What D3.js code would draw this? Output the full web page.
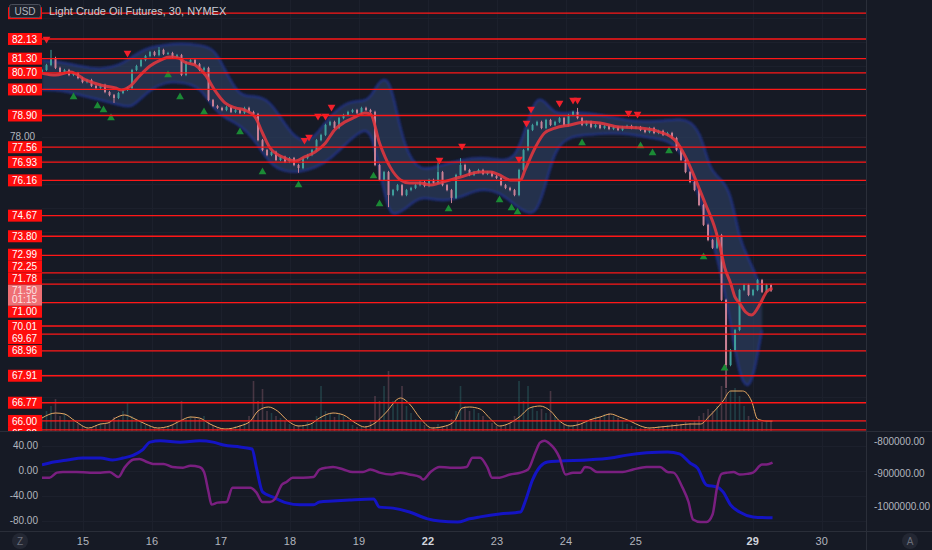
<!DOCTYPE html>
<html>
<head>
<meta charset="utf-8">
<script src="https://cdn.jsdelivr.net/npm/d3@7"></script>
<style>
html, body { margin: 0; padding: 0; background: #161a25; }
svg { display: block; font-family: "Liberation Sans", Arial, sans-serif; }
</style>
</head>
<body>
<div id="chart"></div>
<script>

// ****************************** DATA ******************************
// one close every 3 bars (30 min bars), bar index = 3 * k
var closes = [
    80.82, 81.03, 81.33, 80.91, 80.74, 80.82, 80.61, 80.69, 80.48, 80.31,
    80.40, 80.15, 80.06, 80.19, 79.89, 79.76, 79.64, 79.85, 79.98, 80.06,
    80.82, 80.99, 81.24, 81.41, 81.58, 81.45, 81.67, 81.50, 81.54, 81.37,
    81.45, 80.61, 81.16, 81.24, 81.07, 80.82, 80.91, 79.55, 79.30, 79.22,
    79.13, 79.26, 79.05, 79.13, 79.01, 79.22, 79.05, 78.96, 77.86, 77.44,
    77.23, 77.36, 77.02, 77.15, 76.94, 77.10, 76.81, 76.68, 77.10, 77.23,
    77.44, 77.86, 78.08, 78.50, 78.63, 78.37, 78.79, 78.92, 79.05, 79.13,
    79.01, 79.22, 79.13, 79.05, 76.81, 76.18, 76.51, 75.54, 75.75, 75.96,
    75.54, 75.75, 75.84, 75.96, 76.09, 75.92, 76.18, 76.05, 76.51, 75.96,
    75.75, 75.42, 76.39, 76.81, 76.60, 76.39, 76.51, 76.60, 76.43, 76.51,
    76.34, 76.26, 75.96, 75.84, 75.75, 75.54, 76.60, 77.44, 78.29, 78.50,
    78.63, 78.37, 78.71, 78.50, 78.63, 78.79, 78.50, 78.92, 79.05, 78.79,
    78.50, 78.63, 78.41, 78.50, 78.37, 78.46, 78.33, 78.41, 78.29, 78.41,
    78.46, 78.37, 78.41, 78.29, 78.20, 78.37, 78.16, 78.25, 78.08, 78.16,
    77.95, 77.44, 77.02, 76.51, 76.09, 75.75, 75.12, 74.28, 73.64, 73.31,
    73.85, 71.11, 68.36, 68.99, 69.84, 71.53, 71.74, 71.32, 71.53, 71.95,
    71.45, 71.74, 71.50
];
var first_open = 80.70;

// long wicks [candle k, price]
var wick_highs = [[2, 81.67], [26, 81.79], [88, 76.95], [93, 77.10], [119, 79.22], [150, 73.95]];
var wick_lows = [[16, 79.43], [57, 76.48], [77, 75.03], [91, 75.20], [152, 67.39]];

var volumes = [
    30, 40, 50, 64, 30, 36, 20, 24, 14, 10,
    6, 8, 12, 16, 14, 20, 28, 24, 40, 56,
    30, 22, 18, 12, 10, 8, 6, 8, 10, 12,
    20, 60, 24, 30, 26, 24, 30, 18, 12, 8,
    6, 4, 6, 10, 12, 16, 30, 100, 60, 84,
    40, 36, 30, 26, 20, 14, 10, 12, 10, 18,
    16, 30, 90, 40, 36, 28, 34, 30, 18, 12,
    8, 8, 10, 20, 70, 60, 90, 120, 60, 56,
    90, 50, 36, 24, 20, 12, 6, 8, 14, 10,
    12, 24, 40, 90, 50, 40, 44, 36, 30, 20,
    16, 10, 10, 12, 16, 30, 100, 60, 90, 50,
    40, 44, 36, 80, 30, 20, 14, 10, 12, 20,
    16, 22, 24, 30, 28, 34, 36, 30, 26, 20,
    14, 10, 8, 6, 6, 8, 8, 10, 10, 12,
    14, 16, 14, 18, 16, 20, 30, 36, 44, 40,
    50, 90, 84, 80, 86, 70, 50, 30, 24, 20,
    18, 22, 20
];

// volume average [bar, value]
var vol_avg = [
    [0, 26], [9, 36], [15, 34], [22, 20], [31, 6], [39, 14], [44, 16], [49, 26], [55, 32], [62, 24],
    [69, 14], [77, 6], [85, 10], [92, 20], [99, 28], [105, 26], [112, 14], [122, 4], [132, 10], [139, 20],
    [144, 40], [151, 48], [157, 40], [164, 20], [171, 10], [179, 14], [185, 26], [194, 36], [201, 32], [209, 16],
    [215, 8], [222, 16], [229, 36], [239, 66], [245, 54], [252, 26], [260, 6], [269, 10], [275, 20], [280, 46],
    [285, 48], [292, 44], [299, 24], [305, 10], [312, 16], [319, 30], [325, 46], [332, 50], [339, 40], [345, 20],
    [352, 10], [359, 14], [365, 22], [372, 28], [379, 34], [385, 28], [392, 20], [399, 10], [405, 6], [412, 8],
    [419, 10], [425, 12], [432, 14], [439, 14], [445, 30], [454, 60], [459, 80], [467, 80], [473, 60], [477, 24],
    [483, 20], [487, 20]
];

// red moving average [bar, price]
var ma_line = [
    [0, 80.69], [9, 80.61], [19, 80.74], [29, 80.40], [39, 80.19], [49, 80.06], [53, 79.98], [59, 80.15],
    [65, 80.57], [72, 80.99], [79, 81.24], [85, 81.37], [91, 81.33], [95, 81.16], [102, 81.03], [109, 80.61],
    [115, 79.98], [122, 79.43], [129, 79.22], [135, 79.13], [142, 78.84], [147, 78.16], [152, 77.53], [162, 77.10],
    [169, 76.98], [175, 77.15], [182, 77.36], [189, 77.74], [195, 78.29], [202, 78.63], [209, 78.84], [215, 79.01],
    [219, 78.96], [225, 77.74], [232, 76.73], [239, 76.18], [245, 76.05], [252, 76.05], [259, 75.96], [265, 76.05],
    [279, 76.30], [292, 76.51], [299, 76.51], [305, 76.39], [312, 76.18], [319, 76.18], [322, 76.60], [329, 77.57],
    [335, 78.16], [342, 78.37], [352, 78.50], [362, 78.63], [372, 78.58], [385, 78.41], [399, 78.37], [412, 78.20],
    [422, 77.86], [429, 77.15], [435, 76.30], [442, 75.20], [449, 74.06], [452, 73.35], [455, 72.50], [459, 71.83],
    [462, 71.23], [465, 70.98], [469, 70.60], [473, 70.47], [479, 70.98], [483, 71.45], [487, 71.61]
];

// envelope band [bar, upper, lower]
var band = [
    [0, 81.24, 79.98], [12, 81.16, 79.98], [25, 80.99, 79.76], [39, 80.82, 79.55], [52, 81.03, 79.34],
    [59, 81.33, 79.22], [65, 81.58, 79.55], [72, 81.79, 79.98], [82, 81.88, 80.31], [92, 81.96, 80.31],
    [105, 81.88, 80.15], [115, 81.75, 79.13], [122, 80.82, 78.79], [132, 79.64, 78.50], [142, 79.76, 77.86],
    [152, 79.55, 76.81], [162, 78.50, 76.51], [172, 77.74, 76.51], [182, 77.95, 76.68], [192, 78.92, 77.02],
    [205, 79.55, 77.86], [215, 79.47, 78.37], [220, 79.76, 78.08], [225, 80.40, 76.60], [231, 80.48, 74.82],
    [235, 79.55, 74.70], [242, 77.44, 74.91], [252, 76.51, 75.54], [265, 76.79, 75.25], [279, 77.02, 75.42],
    [292, 77.15, 75.84], [305, 77.02, 75.67], [315, 77.02, 75.12], [322, 78.29, 74.82], [329, 79.68, 74.70],
    [335, 79.55, 75.75], [342, 78.92, 77.53], [352, 79.05, 78.03], [365, 79.01, 78.08], [379, 78.84, 78.16],
    [392, 78.67, 78.12], [405, 78.63, 77.95], [419, 78.71, 77.86], [429, 78.79, 77.10], [439, 78.29, 75.33],
    [445, 76.60, 74.06], [452, 76.26, 72.46], [459, 75.75, 70.14], [465, 73.64, 67.81], [471, 72.88, 67.31],
    [475, 72.29, 68.07], [480, 71.53, 69.84]
];

// signal markers [bar, price]
var sell_marks = [
    [3, 82.13], [57, 81.54], [175, 77.86], [178, 77.99], [184, 78.88], [189, 78.88], [193, 79.26],
    [265, 77.02], [280, 77.61], [318, 77.06], [323, 78.58], [326, 79.17], [345, 79.43], [354, 79.55],
    [357, 79.55], [391, 79.01], [397, 78.96]
];
var buy_marks = [
    [21, 79.68], [37, 79.30], [41, 79.13], [46, 78.79], [84, 80.61], [92, 79.68], [108, 79.05],
    [132, 78.20], [147, 76.51], [171, 75.96], [221, 76.34], [225, 75.16], [271, 74.95], [305, 75.33],
    [313, 74.99], [317, 74.82], [360, 77.74], [399, 77.61], [407, 77.32], [418, 77.40], [441, 72.92],
    [455, 68.23]
];

// support / resistance levels
var levels = [83.22, 82.13, 81.30, 80.70, 80.00, 78.90, 77.56, 76.93, 76.16, 74.67, 73.80, 72.99,
    72.25, 71.78, 71.00, 70.01, 69.67, 68.96, 67.91, 66.77, 66.00, 65.62];
var price_ticks = d3.range(66, 84, 1);
var last_price = 71.50, countdown = "01:15";

// lower pane [bar, value]
var osc_line = [
    [0, -11], [5, -11], [10, -3], [14, -2], [23, -2], [32, -3], [39, -3], [45, -2], [51, -10], [55, 5],
    [61, 18], [65, 19], [70, 14], [74, 11], [81, 11], [87, 6], [94, 5], [99, 8], [105, 6], [108, -2],
    [111, -34], [113, -54], [117, -51], [123, -50], [127, -27], [132, -27], [139, -27], [143, -35], [147, -50],
    [152, -50], [155, -46], [160, -22], [163, -18], [167, -11], [174, -11], [181, -10], [185, 2], [190, 5],
    [194, 6], [201, 2], [207, -2], [214, -2], [219, 2], [225, -3], [233, -6], [239, -3], [245, -6], [252, -10],
    [254, -14], [259, -2], [265, 6], [272, 5], [279, 5], [283, 6], [287, 21], [292, 21], [297, 5], [300, -11],
    [305, -11], [312, -6], [319, -3], [324, 2], [329, 30], [332, 45], [335, 48], [339, 42], [342, 34], [345, 21],
    [349, -6], [354, -3], [359, -3], [362, 6], [365, 5], [370, -2], [379, -2], [387, -2], [394, 2], [403, 6],
    [412, 6], [417, -2], [421, -3], [427, -27], [431, -50], [434, -78], [439, -82], [443, -82], [447, -70],
    [450, -27], [453, -5], [457, -3], [461, -2], [465, -6], [470, -5], [474, -3], [480, 10], [483, 10], [487, 13]
];
var cum_line = [
    [0, -872000], [5, -866000], [17, -857000], [27, -851000], [39, -851000], [47, -857000], [54, -851000],
    [61, -842000], [67, -826000], [72, -802000], [79, -798000], [92, -802000], [105, -798000], [114, -802000],
    [121, -811000], [132, -817000], [140, -823000], [143, -882000], [147, -955000], [154, -971000], [163, -989000],
    [172, -995000], [181, -995000], [185, -986000], [194, -983000], [205, -980000], [221, -977000], [225, -1002000],
    [234, -1005000], [245, -1017000], [257, -1038000], [265, -1045000], [277, -1048000], [285, -1038000],
    [292, -1032000], [305, -1023000], [319, -1017000], [322, -986000], [327, -918000], [332, -878000],
    [337, -863000], [345, -860000], [363, -857000], [379, -851000], [390, -842000], [403, -835000],
    [417, -832000], [425, -838000], [432, -866000], [437, -882000], [443, -934000], [450, -940000],
    [454, -955000], [459, -995000], [465, -1017000], [474, -1032000], [487, -1035000]
];
var osc_ticks = [40, 0, -40, -80];
var cum_ticks = [-800000, -900000, -1000000];

// time axis [bar, label]
var day_ticks = [[27.3, "15"], [73.3, "16"], [119.3, "17"], [165.3, "18"], [211.3, "19"], [257.3, "22"],
    [303.3, "23"], [349.3, "24"], [395.8, "25"], [473.8, "29"], [519.8, "30"]];
var week_starts = ["22", "29"];

// ************************* DISPLAY VARS *************************
var W = 932, H = 550,
    plot_left = 42, plot_right = 866,
    main_top = 0, main_bottom = 431,
    sub_top = 432, sub_bottom = 531;

var color_bg = "#161a25",
    color_grid = "#1c202c",
    color_border = "#2a2e39",
    color_text = "#b2b5be",
    color_level = "#ff1717",
    color_up = "#3f9e9b",
    color_down = "#c98095";

var svg = d3.select("#chart").append("svg")
    .attr("width", W)
    .attr("height", H);

svg.append("rect").attr("width", W).attr("height", H).attr("fill", color_bg);

// ***************************** SCALES *****************************
var x = d3.scaleLinear().domain([0, 549.3]).range([plot_left, plot_right]);
var y = d3.scaleLinear().domain([65.576, 83.777]).range([main_bottom, main_top]);
var y_vol = d3.scaleLinear().domain([0, 100]).range([main_bottom, main_bottom - 50]);
var y_osc = d3.scaleLinear().domain([-98, 62]).range([sub_bottom + 1, sub_top]);
var y_cum = d3.scaleLinear().domain([-1078500, -770800]).range([sub_bottom + 1, sub_top]);

var defs = svg.append("defs");
defs.append("clipPath").attr("id", "clip-main").append("rect")
    .attr("x", plot_left).attr("y", main_top)
    .attr("width", plot_right - plot_left).attr("height", main_bottom - main_top);
defs.append("clipPath").attr("id", "clip-sub").append("rect")
    .attr("x", plot_left).attr("y", sub_top)
    .attr("width", plot_right - plot_left).attr("height", sub_bottom - sub_top);
defs.append("clipPath").attr("id", "clip-axis").append("rect")
    .attr("x", 0).attr("y", main_top)
    .attr("width", plot_left).attr("height", main_bottom - main_top);
defs.append("filter").attr("id", "soft")
    .attr("x", "-5%").attr("y", "-5%").attr("width", "110%").attr("height", "110%")
    .append("feGaussianBlur").attr("stdDeviation", 1.2);

var main = svg.append("g").attr("clip-path", "url(#clip-main)");
var sub = svg.append("g").attr("clip-path", "url(#clip-sub)");

// ****************************** GRID ******************************
main.selectAll("line.hgrid")
    .data(price_ticks).enter().append("line")
    .attr("x1", plot_left).attr("x2", plot_right)
    .attr("y1", d => Math.round(y(d)) + 0.5).attr("y2", d => Math.round(y(d)) + 0.5)
    .attr("stroke", color_grid);

[main, sub].forEach(function(g) {
    g.selectAll("line.vgrid")
        .data(day_ticks).enter().append("line")
        .attr("x1", d => Math.round(x(d[0])) + 0.5).attr("x2", d => Math.round(x(d[0])) + 0.5)
        .attr("y1", 0).attr("y2", H)
        .attr("stroke", color_grid);
});

sub.selectAll("line.ogrid")
    .data(osc_ticks).enter().append("line")
    .attr("x1", plot_left).attr("x2", plot_right)
    .attr("y1", d => Math.round(y_osc(d)) + 0.5).attr("y2", d => Math.round(y_osc(d)) + 0.5)
    .attr("stroke", color_grid);

// ***************************** CANDLES ****************************
var candles = closes.map(function(c, k) {
    var o = k == 0 ? first_open : closes[k - 1];
    return {bar: 3 * k, open: o, close: c, high: Math.max(o, c) + 0.05, low: Math.min(o, c) - 0.05, vol: volumes[k]};
});
wick_highs.forEach(function(w) { candles[w[0]].high = w[1]; });
wick_lows.forEach(function(w) { candles[w[0]].low = w[1]; });

// volume
main.selectAll("rect.vol")
    .data(candles).enter().append("rect")
    .attr("x", d => x(d.bar) - 0.8)
    .attr("width", 1.6)
    .attr("y", d => y_vol(d.vol))
    .attr("height", d => main_bottom - y_vol(d.vol))
    .attr("fill", d => d.close >= d.open ? color_up : color_down)
    .attr("opacity", 0.28);

main.append("path")
    .datum(vol_avg)
    .attr("d", d3.line().x(d => x(d[0])).y(d => y_vol(d[1])).curve(d3.curveMonotoneX))
    .attr("fill", "none")
    .attr("stroke", "#e6a863")
    .attr("stroke-width", 1);

// band
var band_g = main.append("g").attr("filter", "url(#soft)");
band_g.append("path")
    .datum(band)
    .attr("d", d3.area().x(d => x(d[0])).y0(d => y(d[2])).y1(d => y(d[1])).curve(d3.curveBasis))
    .attr("fill", "#2b3f66")
    .attr("opacity", 0.6);
[1, 2].forEach(function(j) {
    band_g.append("path")
        .datum(band)
        .attr("d", d3.line().x(d => x(d[0])).y(d => y(d[j])).curve(d3.curveBasis))
        .attr("fill", "none")
        .attr("stroke", "#22359a")
        .attr("stroke-width", 2)
        .attr("opacity", 0.8);
});

main.selectAll("line.wick")
    .data(candles).enter().append("line")
    .attr("x1", d => x(d.bar)).attr("x2", d => x(d.bar))
    .attr("y1", d => y(d.high)).attr("y2", d => y(d.low))
    .attr("stroke", d => d.close >= d.open ? color_up : color_down)
    .attr("stroke-width", 1);

main.selectAll("rect.candle")
    .data(candles).enter().append("rect")
    .attr("x", d => x(d.bar) - 1)
    .attr("width", 2)
    .attr("y", d => y(Math.max(d.open, d.close)))
    .attr("height", d => Math.max(1, Math.abs(y(d.open) - y(d.close))))
    .attr("fill", d => d.close >= d.open ? color_up : color_down);

// moving average
main.append("path")
    .datum(ma_line)
    .attr("d", d3.line().x(d => x(d[0])).y(d => y(d[1])).curve(d3.curveMonotoneX))
    .attr("fill", "none")
    .attr("stroke", "#e2373f")
    .attr("stroke-width", 3)
    .attr("opacity", 0.88);

// markers
var tri = d3.symbol().type(d3.symbolTriangle).size(26);
main.selectAll("path.sell")
    .data(sell_marks).enter().append("path")
    .attr("d", tri)
    .attr("transform", d => "translate(" + x(d[0]) + "," + y(d[1]) + ") rotate(180)")
    .attr("fill", "#f0202c");
main.selectAll("path.buy")
    .data(buy_marks).enter().append("path")
    .attr("d", tri)
    .attr("transform", d => "translate(" + x(d[0]) + "," + y(d[1]) + ")")
    .attr("fill", "#1b8a35");

// levels
main.selectAll("line.level")
    .data(levels).enter().append("line")
    .attr("x1", plot_left).attr("x2", plot_right)
    .attr("y1", d => y(d)).attr("y2", d => y(d))
    .attr("stroke", color_level)
    .attr("stroke-width", 1.3);

// *************************** PRICE AXIS ***************************
var axis_g = svg.append("g").attr("clip-path", "url(#clip-axis)");

// label stacking around the last price box
var box_h = 12, cur_top = y(last_price) - 6, cur_h = 21;
var above = levels.filter(d => d > last_price).sort((a, b) => a - b);
var below = levels.filter(d => d < last_price).sort((a, b) => b - a);
var placed = [];
var limit = cur_top;
above.forEach(function(p) {
    var c = Math.min(y(p), limit - box_h / 2);
    placed.push({p: p, c: c});
    limit = c - box_h / 2;
});
limit = cur_top + cur_h;
below.forEach(function(p) {
    var c = Math.max(y(p), limit + box_h / 2);
    placed.push({p: p, c: c});
    limit = c + box_h / 2;
});

// plain ticks only where no level label covers them
var free_ticks = price_ticks.filter(function(t) {
    var ty = y(t);
    if (ty < 22) return false;
    if (ty + 6 > cur_top && ty - 6 < cur_top + cur_h) return false;
    return placed.every(d => Math.abs(d.c - ty) >= 10);
});
axis_g.selectAll("text.tick")
    .data(free_ticks).enter().append("text")
    .attr("x", 10).attr("y", d => y(d))
    .attr("dy", "0.35em")
    .attr("font-size", 10)
    .attr("fill", color_text)
    .text(d => d.toFixed(2));

var lab = axis_g.selectAll("g.lab").data(placed).enter().append("g");
lab.append("rect")
    .attr("x", 8).attr("width", 34)
    .attr("y", d => d.c - box_h / 2).attr("height", box_h)
    .attr("fill", "#ff0d0d");
// the top label sits under the currency badge
lab.filter(d => d.c > 20).append("text")
    .attr("x", 12).attr("y", d => d.c)
    .attr("dy", "0.36em")
    .attr("font-size", 10)
    .attr("fill", "#ffffff")
    .text(d => d.p.toFixed(2));

axis_g.append("rect")
    .attr("x", 8).attr("width", 34)
    .attr("y", cur_top).attr("height", cur_h)
    .attr("fill", "#ef6f74");
axis_g.append("text")
    .attr("x", 12).attr("y", cur_top + 5.5).attr("dy", "0.36em")
    .attr("font-size", 10).attr("fill", "#fbe4e5")
    .text(last_price.toFixed(2));
axis_g.append("text")
    .attr("x", 12).attr("y", cur_top + 15).attr("dy", "0.36em")
    .attr("font-size", 10).attr("fill", "#fbe4e5")
    .text(countdown);

// **************************** LEGEND ******************************
svg.append("rect")
    .attr("x", 9.5).attr("y", 4.5).attr("width", 31).attr("height", 13).attr("rx", 2)
    .attr("fill", "#1e222d").attr("stroke", "#4a4e5a");
svg.append("text")
    .attr("x", 25).attr("y", 11).attr("dy", "0.36em")
    .attr("text-anchor", "middle").attr("font-size", 10).attr("fill", color_text)
    .text("USD");
svg.append("text")
    .attr("x", 49).attr("y", 11).attr("dy", "0.36em")
    .attr("font-size", 11).attr("fill", "#c9ccd4")
    .text("Light Crude Oil Futures, 30, NYMEX");

// *************************** LOWER PANE ***************************
sub.append("path")
    .datum(cum_line)
    .attr("d", d3.line().x(d => x(d[0])).y(d => y_cum(d[1])).curve(d3.curveMonotoneX))
    .attr("fill", "none")
    .attr("stroke", "#1414c4")
    .attr("stroke-width", 3);
sub.append("path")
    .datum(osc_line)
    .attr("d", d3.line().x(d => x(d[0])).y(d => y_osc(d[1])).curve(d3.curveMonotoneX))
    .attr("fill", "none")
    .attr("stroke", "#7a1f80")
    .attr("stroke-width", 2.5);

svg.selectAll("text.osc")
    .data(osc_ticks).enter().append("text")
    .attr("x", 38).attr("y", d => y_osc(d)).attr("dy", "0.35em")
    .attr("text-anchor", "end").attr("font-size", 10).attr("fill", color_text)
    .text(d => d.toFixed(2));
svg.selectAll("text.cum")
    .data(cum_ticks).enter().append("text")
    .attr("x", 874).attr("y", d => y_cum(d)).attr("dy", "0.35em")
    .attr("font-size", 10).attr("fill", color_text)
    .text(d => d.toFixed(2));

// **************************** BORDERS *****************************
svg.append("line").attr("x1", 0).attr("x2", W).attr("y1", main_bottom + 0.5).attr("y2", main_bottom + 0.5)
    .attr("stroke", color_border);
svg.append("line").attr("x1", 0).attr("x2", W).attr("y1", sub_bottom + 0.5).attr("y2", sub_bottom + 0.5)
    .attr("stroke", color_border);
svg.append("line").attr("x1", plot_right + 0.5).attr("x2", plot_right + 0.5).attr("y1", 0).attr("y2", H)
    .attr("stroke", color_border);

// **************************** TIME AXIS ***************************
svg.selectAll("text.day")
    .data(day_ticks).enter().append("text")
    .attr("x", d => x(d[0])).attr("y", 541).attr("dy", "0.35em")
    .attr("text-anchor", "middle").attr("font-size", 11)
    .attr("font-weight", d => week_starts.indexOf(d[1]) >= 0 ? "bold" : "normal")
    .attr("fill", d => week_starts.indexOf(d[1]) >= 0 ? "#d1d4dc" : color_text)
    .text(d => d[1]);

[[20, "Z"], [910, "A"]].forEach(function(b) {
    svg.append("circle").attr("cx", b[0]).attr("cy", 541).attr("r", 8).attr("fill", "#232733");
    svg.append("text").attr("x", b[0]).attr("y", 541).attr("dy", "0.35em")
        .attr("text-anchor", "middle").attr("font-size", 10).attr("fill", "#6a6e7a").text(b[1]);
});

</script>
</body>
</html>
